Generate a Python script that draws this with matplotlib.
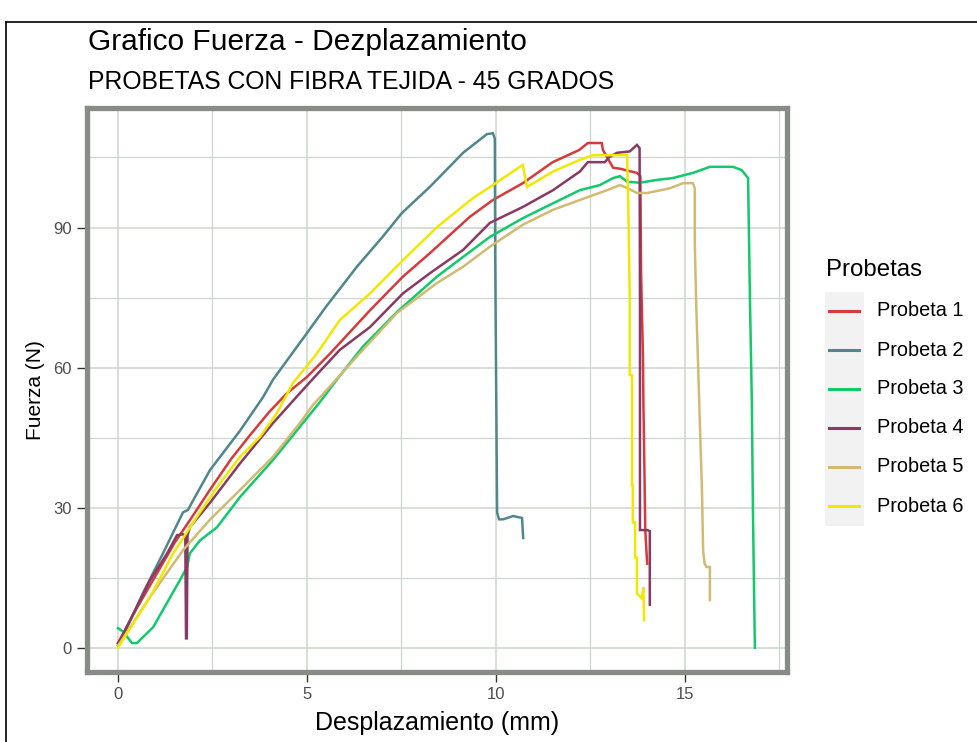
import numpy as np
import matplotlib
matplotlib.use("Agg")
import matplotlib.pyplot as plt
from matplotlib.lines import Line2D
from matplotlib.patches import Rectangle

plt.rcParams['font.family'] = ['Liberation Sans', 'DejaVu Sans']

# datos (desplazamiento mm, fuerza N)
x1 = [0, 0.5, 1.0, 1.5, 2.0, 2.43, 3.0, 3.49, 4.0, 4.47, 5.0, 5.61, 6.67, 7.54, 8.25, 9.31, 9.92,
      10.71, 11.5, 12.2, 12.43, 12.8, 12.83, 13.1, 13.28, 13.73, 13.82, 13.84, 13.89, 13.9, 13.92, 13.95, 14.0]
f1 = [1, 8.5, 15.5, 22.5, 28.5, 33.8, 40.5, 45.5, 50.5, 54.5, 58, 63, 72.3, 79.5, 84.5, 92.3, 95.9,
      99.5, 104, 106.6, 108.1, 108.1, 106.6, 102.8, 102.6, 101.7, 101, 80, 62, 52.8, 42.4, 25.2, 18]

x2 = [0, 0.05, 0.66, 1.19, 1.72, 1.85, 1.95, 2.43, 3.23, 3.84, 4.1, 5.0, 5.5, 6.32, 7.0, 7.51, 8.25,
      9.13, 9.76, 9.92, 9.97, 9.98, 10.03, 10.08, 10.19, 10.45, 10.69, 10.72]
f2 = [0.5, 1, 11.7, 20.2, 29, 29.5, 31, 38, 46.5, 53.7, 57.4, 67.4, 73, 81.6, 88, 93.1, 98.7,
      106, 110, 110.2, 109, 84, 29, 27.5, 27.5, 28.2, 27.8, 23.5]

x3 = [0, 0.14, 0.37, 0.5, 0.93, 1.64, 1.83, 1.9, 2.17, 2.62, 3.23, 4.1, 4.81, 5.34, 5.79, 6.48, 7.38,
      8.44, 9.13, 9.84, 10.71, 11.51, 12.22, 12.75, 13.1, 13.28, 13.47, 13.81, 14.26, 14.68, 15.21,
      15.66, 16.27, 16.5, 16.67, 16.72, 16.77, 16.8, 16.85]
f3 = [4.2, 3.4, 1, 1, 4.4, 14.5, 17.3, 20.2, 23, 25.8, 32.3, 40.2, 47.3, 52.6, 57.4, 64.5, 71.9,
      79.5, 83.7, 88, 92, 95.2, 98, 99.1, 100.6, 101, 99.8, 99.6, 100.2, 100.6, 101.7,
      103, 103, 102.3, 100.6, 74.5, 52.4, 28.4, 0]

x4 = [0, 0.05, 0.85, 1.3, 1.56, 1.72, 1.78, 1.8, 1.82, 1.84, 1.9, 2.43, 3.23, 4.1, 4.81, 5.26, 5.87,
      6.67, 7.54, 8.25, 9.13, 9.84, 10.71, 11.51, 12.22, 12.43, 12.88, 13.0, 13.2, 13.54, 13.73, 13.8,
      13.81, 13.81, 14.0, 14.07, 14.07]
f4 = [1, 1.5, 14.5, 20.2, 24.1, 24.3, 24, 2, 2, 24, 25.8, 31, 39.5, 48.1, 54.5, 58.5, 63.8,
      68.7, 75.9, 80.2, 85.2, 91, 94.4, 98, 102, 104, 104, 105.1, 106, 106.3, 107.7, 107,
      74.5, 25.2, 25.2, 25, 9.2]

x5 = [0, 0.05, 0.85, 1.72, 2.43, 3.23, 4.1, 4.81, 5.16, 5.61, 6.48, 7.38, 8.44, 9.13, 9.84, 10.71,
      11.51, 12.22, 12.94, 13.28, 13.49, 13.73, 14.0, 14.6, 14.95, 15.21, 15.26, 15.26, 15.3, 15.35,
      15.4, 15.45, 15.48, 15.52, 15.57, 15.66, 15.66]
f5 = [0.5, 1, 10.9, 20.9, 27.4, 33.8, 40.9, 48.1, 52, 56, 63.8, 71.7, 78.1, 81.6, 85.9, 90.6,
      93.8, 95.9, 98, 99.1, 98.4, 97.4, 97.4, 98.4, 99.5, 99.5, 98.4, 86.7, 73, 60,
      46.6, 33.8, 20.9, 18, 17.3, 17.3, 10.2]

x6 = [0, 0.85, 1.46, 1.98, 2.62, 3.23, 3.76, 4.2, 4.63, 5.26, 5.87, 6.67, 7.54, 8.44, 9.39, 9.92,
      10.63, 10.71, 10.82, 11.51, 12.22, 12.57, 13.47, 13.5, 13.54, 13.54, 13.6, 13.6, 13.62, 13.62,
      13.68, 13.68, 13.73, 13.73, 13.86, 13.9, 13.92]
f6 = [0, 10.9, 20.2, 26.7, 34.4, 40.9, 45.2, 50.2, 56.7, 63, 70.2, 75.9, 83, 90.1, 96.3, 99.1,
      103, 103.4, 98.7, 102, 104.5, 105.5, 105.5, 95, 74.5, 58.4, 58.4, 34.8, 34.8, 26.8,
      26.8, 19.3, 19.3, 11.6, 10.6, 13, 5.9]

series_x = [x1, x2, x3, x4, x5, x6]
series_f = [f1, f2, f3, f4, f5, f6]
labels = ["Probeta 1", "Probeta 2", "Probeta 3", "Probeta 4", "Probeta 5", "Probeta 6"]
colors = ["#d63a3a", "#4f878d", "#12c96b", "#8a3a62", "#d1bb72", "#f0e800"]

W, H = 977, 742
fig = plt.figure(figsize=(W / 100, H / 100), dpi=100)
fig.patch.set_facecolor("white")

# panel
ax = fig.add_axes([87 / W, 1 - 672 / H, 700 / W, 564 / H])
for x, f, c, lab in zip(series_x, series_f, colors, labels):
    ax.plot(x, f, color=c, lw=1.8, label=lab, solid_joinstyle="miter")

ax.set_xlim(-0.82, 17.70)
ax.set_ylim(-5.2, 115.6)
ax.set_xticks([0, 5, 10, 15])
ax.set_xticks([2.5, 7.5, 12.5, 17.5], minor=True)
ax.set_yticks([0, 30, 60, 90])
ax.set_yticks([15, 45, 75, 105], minor=True)
ax.grid(which="major", color="#ccd6cc", lw=1.1)
ax.grid(which="minor", color="#ccd6cc", lw=0.9)
ax.set_axisbelow(True)
ax.tick_params(which="minor", length=0)
ax.tick_params(which="major", length=7, width=1.0, color="#333333",
               labelcolor="#4d4d4d", labelsize=12, pad=4)
for s in ax.spines.values():
    s.set_color("#878c87")
    s.set_linewidth(3.8)

ax.set_xlabel("Desplazamiento (mm)", fontsize=18, labelpad=6)
ax.set_ylabel("Fuerza (N)", fontsize=15, labelpad=6)

fig.text(88 / W, 1 - 42 / H, "Grafico Fuerza - Dezplazamiento", fontsize=21.5,
         ha="left", va="center")
fig.text(88 / W, 1 - 82 / H, "PROBETAS CON FIBRA TEJIDA - 45 GRADOS", fontsize=17.8,
         ha="left", va="center")

# leyenda
fig.text(826 / W, 1 - 270 / H, "Probetas", fontsize=17.3, ha="left", va="center")
fig.add_artist(Rectangle((825 / W, 1 - 526 / H), 39 / W, 234 / H,
                         transform=fig.transFigure, facecolor="#f2f2f2", edgecolor="none"))
for i, (c, lab) in enumerate(zip(colors, labels)):
    yy = 1 - (311 + 39 * i) / H
    fig.add_artist(Line2D([829 / W, 859 / W], [yy, yy], transform=fig.transFigure,
                          color=c, lw=2.2))
    fig.text(877 / W, yy, lab, fontsize=14.3, ha="left", va="center")

# marco negro de la captura
fig.add_artist(Line2D([6 / W, 6 / W], [0, 1 - 22 / H], transform=fig.transFigure,
                      color="black", lw=1.2))
fig.add_artist(Line2D([6 / W, 1], [1 - 22 / H, 1 - 22 / H], transform=fig.transFigure,
                      color="black", lw=1.2))

fig.savefig("out.png", dpi=100)
